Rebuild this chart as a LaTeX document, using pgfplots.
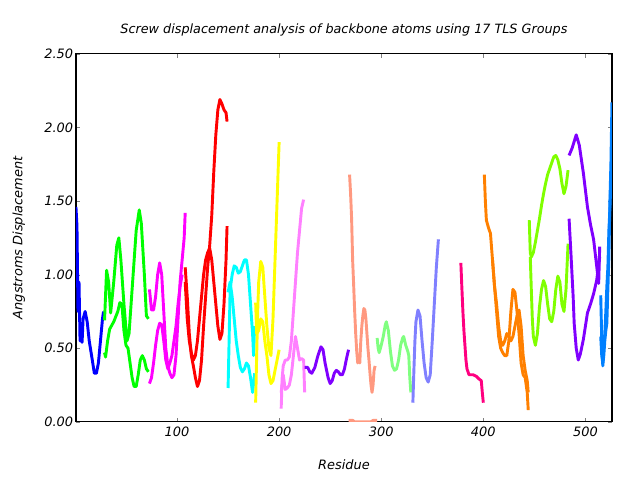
\documentclass[border=0pt]{standalone}
\usepackage{pgfplots}
\pgfplotsset{compat=1.18}
\usepackage{fontspec}
\setmainfont{DejaVu Sans}
\definecolor{gA}{RGB}{0,0,255}
\definecolor{gB}{RGB}{0,255,0}
\definecolor{gC}{RGB}{255,0,255}
\definecolor{gD}{RGB}{255,0,0}
\definecolor{gE}{RGB}{0,255,255}
\definecolor{gF}{RGB}{255,255,0}
\definecolor{gG}{RGB}{255,128,255}
\definecolor{gH}{RGB}{128,0,255}
\definecolor{gI}{RGB}{255,153,128}
\definecolor{gJ}{RGB}{128,255,128}
\definecolor{gK}{RGB}{128,128,255}
\definecolor{gL}{RGB}{255,0,128}
\definecolor{gM}{RGB}{255,128,0}
\definecolor{gN}{RGB}{128,255,0}
\definecolor{gP}{RGB}{0,128,255}
\begin{document}
\begin{tikzpicture}[x=1pt,y=1pt]
\begin{axis}[
  at={(0,0)}, anchor=south west,
  scale only axis,
  width=386pt, height=265pt,
  xmin=1, xmax=526, ymin=0, ymax=2.5,
  xtick={100,200,300,400,500},
  ytick={0,0.5,1,1.5,2,2.5},
  yticklabel style={xshift=1.5pt, /pgf/number format/.cd, fixed, fixed zerofill, precision=2},
  /pgf/number format/assume math mode=true,
  tick label style={font=\fontsize{9.3}{11}\selectfont\itshape},
  label style={font=\fontsize{9.3}{11}\selectfont\itshape},
  title style={font=\fontsize{9.2}{11}\selectfont\itshape, yshift=3pt, xshift=0pt},
  title={Screw displacement analysis of backbone atoms using 17 TLS Groups},
  xlabel={Residue},
  ylabel={Angstroms Displacement},
  xlabel style={yshift=-10pt},
  ylabel style={yshift=7pt},
  major tick length=3pt,
  tick align=inside,
  axis line style={line width=0.8pt},
  every axis plot/.append style={line width=2.1pt, line join=round},
  no markers,
  clip=true,
]
% group 1 blue
\addplot[gA] coordinates {(1,1.46)(2,1.33)(3,0.75)(4,0.95)(5,0.55)(6,0.62)(7,0.54)(8,0.70)(10,0.75)(12,0.68)(14,0.55)(17,0.42)(19,0.33)(21,0.33)(23,0.40)(25,0.55)(27,0.70)(28,0.75)};
% group 2 green
\addplot[gB] coordinates {(29,0.69)(31,1.03)(33,0.95)(35,0.74)(38,0.95)(41,1.20)(43,1.25)(45,1.10)(48,0.80)(51,0.55)(53,0.60)(56,0.90)(60,1.30)(63,1.44)(65,1.35)(68,1.00)(70,0.72)(72,0.70)};
\addplot[gB] coordinates {(29,0.47)(30,0.44)(32,0.55)(34,0.63)(38,0.68)(42,0.75)(44,0.81)(46,0.80)(48,0.62)(50,0.52)(52,0.50)(54,0.40)(56,0.30)(58,0.24)(60,0.24)(62,0.32)(64,0.42)(66,0.45)(68,0.42)(70,0.36)(72,0.34)};
% group 3 magenta
\addplot[gC] coordinates {(73,0.90)(75,0.76)(77,0.76)(79,0.85)(81,1.00)(83,1.08)(85,1.00)(87,0.75)(89,0.50)(91,0.38)(93,0.33)(95,0.30)(97,0.32)(99,0.45)(101,0.70)(103,0.95)(105,1.10)(107,1.25)(108,1.42)};
\addplot[gC] coordinates {(73,0.26)(75,0.30)(77,0.40)(79,0.52)(81,0.62)(83,0.67)(85,0.66)(87,0.55)(89,0.42)(91,0.36)(93,0.40)(95,0.45)(97,0.55)(99,0.65)(101,0.80)(103,0.92)(105,1.00)};
% group 4 red
\addplot[gD] coordinates {(108,1.05)(110,0.85)(112,0.60)(114,0.45)(116,0.38)(118,0.30)(120,0.24)(122,0.28)(124,0.42)(126,0.65)(128,0.85)(130,1.05)(132,1.20)(134,1.40)(136,1.70)(138,1.95)(140,2.12)(142,2.19)(144,2.16)(146,2.12)(148,2.10)(149,2.04)};
\addplot[gD] coordinates {(108,0.95)(110,0.70)(112,0.55)(114,0.47)(116,0.42)(118,0.45)(120,0.55)(122,0.70)(124,0.85)(126,1.00)(128,1.10)(130,1.15)(132,1.18)(134,1.10)(136,0.95)(138,0.80)(140,0.65)(142,0.56)(144,0.60)(146,0.80)(148,1.10)(149,1.33)};
% group 5 cyan
\addplot[gE] coordinates {(150,0.23)(151,0.55)(152,0.90)(154,1.00)(156,1.06)(158,1.05)(160,1.01)(162,1.02)(164,1.06)(166,1.10)(168,1.10)(170,1.00)(172,0.80)(174,0.60)(175,0.45)(176,0.65)};
\addplot[gE] coordinates {(150,0.88)(152,0.95)(154,0.85)(156,0.70)(158,0.55)(160,0.45)(162,0.37)(164,0.34)(166,0.36)(168,0.40)(170,0.38)(172,0.30)(174,0.20)(176,0.33)};
% group 6 yellow
\addplot[gF] coordinates {(177,0.13)(178,0.45)(179,0.75)(180,0.95)(182,1.09)(184,1.05)(186,0.85)(188,0.65)(190,0.50)(192,0.45)(194,0.70)(196,1.10)(198,1.50)(200,1.90)};
\addplot[gF] coordinates {(177,0.81)(178,0.60)(180,0.62)(182,0.70)(184,0.68)(186,0.55)(188,0.45)(190,0.32)(192,0.26)(194,0.28)(196,0.35)(198,0.42)(200,0.49)};
% group 7 pink
\addplot[gG] coordinates {(202,0.09)(203,0.30)(204,0.38)(206,0.42)(208,0.42)(210,0.44)(212,0.55)(214,0.75)(216,0.95)(218,1.15)(220,1.30)(222,1.45)(224,1.51)};
\addplot[gG] coordinates {(202,0.20)(204,0.32)(206,0.22)(208,0.23)(210,0.25)(212,0.32)(214,0.45)(216,0.58)(218,0.50)(220,0.42)(222,0.43)(224,0.42)(225,0.20)};
% group 8 purple
\addplot[gH] coordinates {(225,0.37)(228,0.37)(230,0.34)(232,0.33)(235,0.37)(238,0.45)(241,0.51)(243,0.49)(245,0.40)(248,0.30)(250,0.26)(252,0.28)(254,0.33)(256,0.35)(258,0.34)(260,0.32)(262,0.32)(264,0.36)(266,0.43)(268,0.49)};
% group 9 salmon
\addplot[gI] coordinates {(269,1.68)(270,1.55)(271,1.38)(272,1.10)(273,0.93)(274,0.75)(275,0.60)(276,0.48)(277,0.40)(278,0.45)(279,0.40)(280,0.55)(281,0.65)(282,0.72)(283,0.77)(284,0.76)(285,0.70)(286,0.60)(287,0.50)(288,0.42)(289,0.33)(290,0.25)(291,0.20)(292,0.25)(293,0.35)(294,0.38)};
\addplot[gI] coordinates {(268,0.01)(272,0.01)(274,0.0)(290,0.0)(292,0.01)(296,0.01)};
% group 10 light green
\addplot[gJ] coordinates {(296,0.57)(297,0.50)(298,0.47)(300,0.52)(302,0.58)(304,0.66)(305,0.68)(307,0.62)(309,0.48)(311,0.38)(313,0.35)(315,0.36)(317,0.42)(319,0.52)(321,0.57)(322,0.58)(324,0.52)(326,0.48)(327,0.45)(328,0.30)(329,0.20)};
% group 11 periwinkle
\addplot[gK] coordinates {(331,0.13)(332,0.35)(333,0.55)(334,0.68)(336,0.76)(338,0.72)(340,0.55)(342,0.40)(344,0.30)(346,0.27)(348,0.32)(350,0.55)(352,0.80)(354,1.05)(356,1.24)};
% group 12 deep pink
\addplot[gL] coordinates {(378,1.08)(379,0.91)(380,0.75)(381,0.62)(382,0.52)(383,0.42)(384,0.36)(386,0.32)(390,0.32)(393,0.31)(396,0.29)(398,0.28)(399,0.20)(400,0.13)};
% group 13 orange
\addplot[gM] coordinates {(401,1.68)(402,1.50)(403,1.37)(405,1.32)(407,1.28)(409,1.10)(411,0.92)(413,0.75)(415,0.58)(417,0.50)(419,0.47)(421,0.45)(423,0.45)(425,0.55)(427,0.75)(429,0.90)(431,0.88)(433,0.75)(435,0.60)(437,0.40)(439,0.32)(441,0.30)(443,0.20)(444,0.08)};
\addplot[gM] coordinates {(409,1.10)(411,0.92)(413,0.80)(415,0.65)(417,0.55)(419,0.52)(421,0.55)(423,0.60)(425,0.58)(427,0.55)(429,0.58)(431,0.65)(433,0.72)(435,0.76)(437,0.65)(439,0.45)(441,0.35)(443,0.28)(444,0.20)};
% group 14 chartreuse
\addplot[gN] coordinates {(445,1.37)(446,1.15)(447,1.12)(449,1.15)(451,1.22)(453,1.30)(455,1.38)(457,1.47)(459,1.55)(461,1.62)(463,1.68)(465,1.72)(467,1.76)(469,1.80)(471,1.81)(473,1.78)(475,1.72)(477,1.62)(479,1.55)(481,1.60)(483,1.71)};
\addplot[gN] coordinates {(446,1.12)(447,0.90)(448,0.70)(449,0.58)(451,0.52)(453,0.60)(455,0.78)(457,0.90)(459,0.96)(461,0.92)(463,0.80)(465,0.70)(467,0.68)(469,0.75)(471,0.90)(473,0.99)(475,0.95)(477,0.80)(479,0.75)(481,0.90)(483,1.21)};
% group 15 purple
\addplot[gH] coordinates {(484,1.81)(487,1.86)(491,1.95)(494,1.88)(498,1.69)(502,1.46)(505,1.34)(508,1.24)(511,1.06)(513,0.94)(514,1.19)};
\addplot[gH] coordinates {(484,1.38)(486,1.12)(488,0.85)(489,0.67)(491,0.50)(493,0.42)(495,0.46)(498,0.56)(502,0.74)(505,0.80)(508,0.87)(511,0.96)(514,1.12)};
% group 16 azure
\addplot[gP] coordinates {(515,0.86)(516,0.56)(517,0.38)(518,0.45)(519,0.55)(520,0.62)(521,0.67)(522,0.90)(523,1.12)(524,1.50)(525,1.76)(526,2.17)};
\addplot[gP] coordinates {(515,0.58)(516,0.45)(517,0.40)(518,0.50)(519,0.60)(520,0.75)(521,0.92)(522,1.05)(523,1.30)(524,1.45)(525,1.63)(526,1.87)};
\end{axis}
\path (-54.7pt,-41.8pt) rectangle (406.2pt,303.8pt);
\end{tikzpicture}
\end{document}
